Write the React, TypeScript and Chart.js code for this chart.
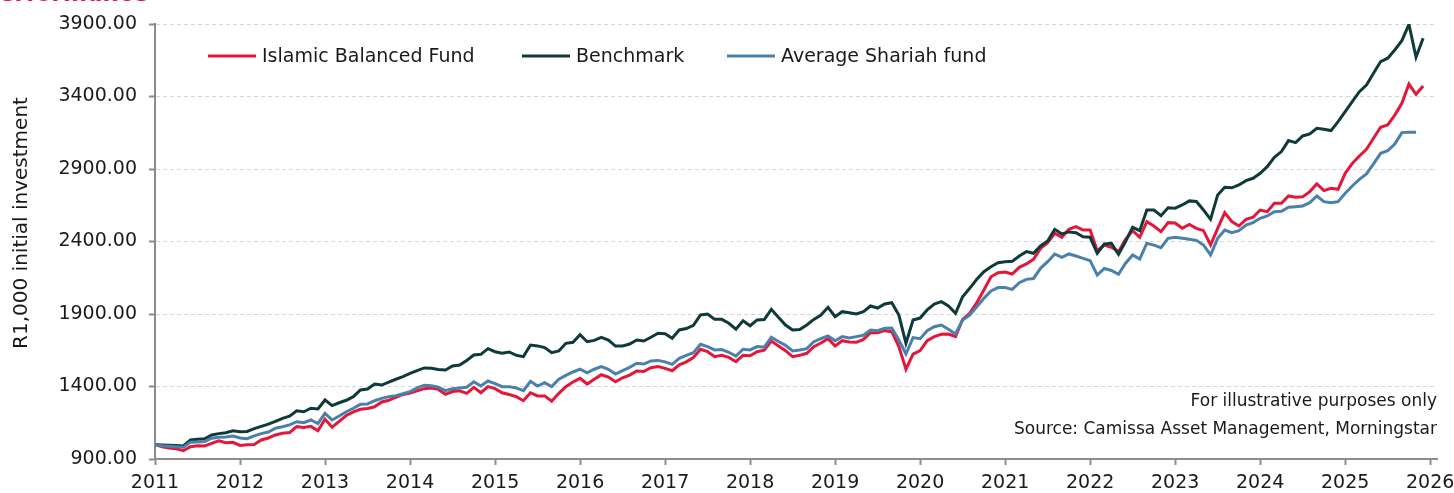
import React, { useEffect, useRef } from "react";
import { Chart, registerables } from "chart.js";

Chart.register(...registerables);

// ---------- DATA ----------
const startYear = 2011; // first monthly observation sits on the 2011 tick
const seriesNames = ["Islamic Balanced Fund", "Benchmark", "Average Shariah fund"];
const yAxisTitle = "R1,000 initial investment";
const chartTitle = "Performance";
const noteLines = ["For illustrative purposes only", "Source: Camissa Asset Management, Morningstar"];
const yTickValues = [900, 1400, 1900, 2400, 2900, 3400, 3900];
const xTickYears = [2011, 2012, 2013, 2014, 2015, 2016, 2017, 2018, 2019, 2020, 2021, 2022, 2023, 2024, 2025, 2026];

// Monthly values, Jan 2011 onwards
const islamicBalanced = [
  1000, 985, 976, 970, 957, 985, 992, 990, 1008, 1026, 1012, 1015,
  994, 998, 1000, 1031, 1045, 1066, 1077, 1082, 1123, 1118, 1125, 1095,
  1174, 1119, 1160, 1200, 1225, 1243, 1248, 1260, 1293, 1305, 1326, 1345,
  1355, 1370, 1385, 1390, 1380, 1346, 1365, 1370, 1353, 1394, 1357, 1399,
  1385, 1357, 1345, 1330, 1302, 1357, 1335, 1335, 1298, 1353, 1399, 1431,
  1456, 1417, 1450, 1481, 1465, 1433, 1460, 1479, 1507, 1503, 1530, 1537,
  1525, 1509, 1550, 1570, 1600, 1657, 1640, 1606, 1615, 1601, 1571, 1615,
  1612, 1640, 1650, 1714, 1680, 1647, 1606, 1615, 1629, 1675, 1700, 1730,
  1679, 1716, 1707, 1705, 1725, 1771, 1771, 1785, 1778, 1675, 1519, 1624,
  1647, 1716, 1744, 1760, 1762, 1744, 1863, 1905, 1978, 2066, 2157, 2185,
  2190, 2176, 2222, 2245, 2277, 2353, 2392, 2457, 2429, 2484, 2502, 2479,
  2479, 2337, 2376, 2360, 2330, 2415, 2475, 2429, 2537, 2507, 2468, 2530,
  2527, 2491, 2518, 2491, 2475, 2376, 2491, 2599, 2537, 2507, 2553, 2567,
  2617, 2606, 2663, 2663, 2714, 2705, 2708, 2744, 2797, 2751, 2767, 2760,
  2870, 2939, 2990, 3036, 3112, 3188, 3204, 3272, 3353, 3486, 3415, 3473,
];

const benchmark = [
  1000, 997, 995, 993, 990, 1031, 1036, 1040, 1066, 1075, 1081, 1095,
  1088, 1090, 1110, 1125, 1140, 1160, 1180, 1195, 1233, 1226, 1250, 1245,
  1307, 1268, 1288, 1305, 1330, 1376, 1383, 1417, 1410, 1430, 1450, 1468,
  1490, 1510, 1528, 1526, 1518, 1514, 1541, 1548, 1580, 1617, 1622, 1661,
  1640, 1629, 1638, 1615, 1606, 1686, 1680, 1668, 1633, 1645, 1698, 1705,
  1757, 1709, 1718, 1739, 1720, 1679, 1680, 1693, 1721, 1714, 1740, 1767,
  1764, 1733, 1790, 1800, 1822, 1893, 1900, 1863, 1863, 1836, 1795, 1854,
  1819, 1859, 1862, 1932, 1877, 1824, 1790, 1793, 1824, 1863, 1893, 1946,
  1881, 1916, 1909, 1900, 1916, 1955, 1941, 1969, 1978, 1893, 1698, 1859,
  1872, 1928, 1969, 1985, 1955, 1905, 2019, 2077, 2139, 2192, 2226, 2254,
  2261, 2263, 2300, 2330, 2319, 2369, 2404, 2484, 2452, 2466, 2460, 2433,
  2429, 2319, 2383, 2387, 2312, 2400, 2498, 2475, 2617, 2617, 2578, 2633,
  2630, 2652, 2680, 2676, 2617, 2553, 2721, 2774, 2770, 2790, 2820, 2836,
  2870, 2916, 2981, 3020, 3096, 3082, 3128, 3142, 3181, 3174, 3165, 3227,
  3296, 3364, 3433, 3479, 3560, 3641, 3664, 3721, 3785, 3898, 3671, 3802,
];

const averageShariah = [
  1000, 992, 988, 985, 981, 1015, 1018, 1020, 1043, 1050, 1052, 1059,
  1045, 1040, 1059, 1075, 1086, 1112, 1122, 1135, 1157, 1150, 1169, 1145,
  1215, 1169, 1197, 1226, 1250, 1277, 1280, 1302, 1318, 1330, 1337, 1350,
  1365, 1390, 1408, 1405, 1395, 1371, 1385, 1390, 1395, 1433, 1403, 1438,
  1420, 1399, 1399, 1390, 1371, 1436, 1403, 1426, 1399, 1450, 1477, 1500,
  1519, 1495, 1519, 1537, 1519, 1486, 1510, 1532, 1560, 1555, 1576, 1580,
  1570, 1553, 1594, 1615, 1633, 1691, 1675, 1652, 1655, 1636, 1610, 1657,
  1652, 1675, 1671, 1739, 1710, 1684, 1645, 1652, 1661, 1709, 1730, 1748,
  1716, 1744, 1735, 1744, 1753, 1790, 1785, 1801, 1803, 1721, 1624, 1737,
  1730, 1785, 1812, 1824, 1795, 1762, 1859, 1893, 1950, 2008, 2059, 2082,
  2082, 2070, 2116, 2139, 2145, 2215, 2261, 2314, 2291, 2314, 2300, 2284,
  2268, 2169, 2215, 2200, 2174, 2250, 2307, 2279, 2388, 2375, 2357, 2422,
  2429, 2422, 2415, 2408, 2376, 2307, 2422, 2479, 2461, 2475, 2514, 2530,
  2560, 2576, 2606, 2608, 2636, 2640, 2645, 2668, 2714, 2675, 2668, 2675,
  2733, 2783, 2829, 2866, 2935, 3008, 3026, 3072, 3151, 3153, 3153,
];

// ---------- STYLE ----------
const FONT = "'DejaVu Sans', Verdana, sans-serif";
const RED = "#E3173A";
const DARK = "#0F3A3A";
const BLUE = "#4B80AA";
const TEXT = "#1a1a1a";
const AXIS = "#8c8c8c";
const LEGEND_X = [208, 522, 727];

const toPoints = (values: number[]) =>
  values.map((v, i) => ({ x: startYear + i / 12, y: v }));

export default function App() {
  const canvasRef = useRef<HTMLCanvasElement>(null);

  useEffect(() => {
    const canvas = canvasRef.current;
    if (!canvas) return;

    const overlay = {
      id: "overlay",
      afterDraw(chart: any) {
        const ctx = chart.ctx as CanvasRenderingContext2D;
        ctx.save();
        // legend
        const colors = [RED, DARK, BLUE];
        ctx.font = `19px ${FONT}`;
        ctx.textBaseline = "middle";
        ctx.textAlign = "left";
        const ly = 56;
        seriesNames.forEach((name, i) => {
          const x = LEGEND_X[i];
          ctx.strokeStyle = colors[i];
          ctx.lineWidth = 3;
          ctx.beginPath();
          ctx.moveTo(x, ly);
          ctx.lineTo(x + 48, ly);
          ctx.stroke();
          ctx.fillStyle = TEXT;
          ctx.fillText(name, x + 54, ly + 1);
        });
        // notes
        ctx.font = `17px ${FONT}`;
        ctx.textAlign = "right";
        ctx.fillText(noteLines[0], 1437, 402);
        ctx.fillText(noteLines[1], 1437, 430);
        // y title
        ctx.translate(22, 223);
        ctx.rotate(-Math.PI / 2);
        ctx.textAlign = "center";
        ctx.font = `20px ${FONT}`;
        ctx.fillText(yAxisTitle, 0, 0);
        ctx.restore();
      },
    };

    const chart = new Chart(canvas, {
      type: "line",
      data: {
        datasets: [
          {
            label: seriesNames[0],
            data: toPoints(islamicBalanced),
            borderColor: RED,
            backgroundColor: RED,
            borderWidth: 3,
            pointRadius: 0,
            order: 2,
          },
          {
            label: seriesNames[1],
            data: toPoints(benchmark),
            borderColor: DARK,
            backgroundColor: DARK,
            borderWidth: 3,
            pointRadius: 0,
            order: 1,
          },
          {
            label: seriesNames[2],
            data: toPoints(averageShariah),
            borderColor: BLUE,
            backgroundColor: BLUE,
            borderWidth: 3,
            pointRadius: 0,
            order: 0,
          },
        ],
      },
      options: {
        responsive: false,
        animation: false,
        layout: { padding: { top: 24, right: 17, left: 0, bottom: 0 } },
        plugins: {
          legend: { display: false },
          tooltip: { enabled: false },
          title: { display: false },
        },
        scales: {
          x: {
            type: "linear",
            min: xTickYears[0],
            max: 2026.08,
            afterFit: (s: any) => {
              s.height = 34;
              s.paddingLeft = 0;
              s.paddingRight = 0;
            },
            afterBuildTicks: (s: any) => {
              s.ticks = xTickYears.map((v) => ({ value: v }));
            },
            ticks: {
              autoSkip: false,
              maxRotation: 0,
              minRotation: 0,
              padding: 7,
              color: TEXT,
              font: { family: FONT, size: 19 },
              callback: (v: any) => String(v),
            },
            grid: {
              drawOnChartArea: false,
              drawTicks: true,
              tickLength: 6,
              tickColor: AXIS,
              tickWidth: 2,
            },
            border: { display: true, color: AXIS, width: 2 },
          },
          y: {
            min: yTickValues[0],
            max: yTickValues[yTickValues.length - 1],
            afterFit: (s: any) => {
              s.width = 155;
              s.paddingTop = 0;
              s.paddingBottom = 0;
            },
            afterBuildTicks: (s: any) => {
              s.ticks = yTickValues.map((v) => ({ value: v }));
            },
            ticks: {
              padding: 12,
              color: TEXT,
              font: { family: FONT, size: 19 },
              callback: (v: any) => Number(v).toFixed(2),
            },
            grid: {
              color: "#d6d6d6",
              lineWidth: 1,
              drawTicks: true,
              tickLength: 6,
              tickColor: AXIS,
              tickWidth: 2,
              tickBorderDash: [],
            },
            border: { display: true, color: AXIS, width: 2, dash: [4, 3] },
          },
        },
      },
      plugins: [overlay],
    });

    return () => chart.destroy();
  }, []);

  return (
    <div
      style={{
        position: "fixed",
        left: 0,
        top: 0,
        width: 1454,
        height: 493,
        overflow: "hidden",
        background: "#ffffff",
      }}
    >
      <div
        style={{
          position: "absolute",
          left: -18,
          top: -18,
          fontFamily: FONT,
          fontWeight: "bold",
          fontSize: 23,
          lineHeight: "23px",
          color: RED,
          whiteSpace: "nowrap",
        }}
      >
        {chartTitle}
      </div>
      <canvas
        ref={canvasRef}
        width={1454}
        height={493}
        style={{ position: "absolute", left: 0, top: 0, display: "block" }}
      />
    </div>
  );
}
